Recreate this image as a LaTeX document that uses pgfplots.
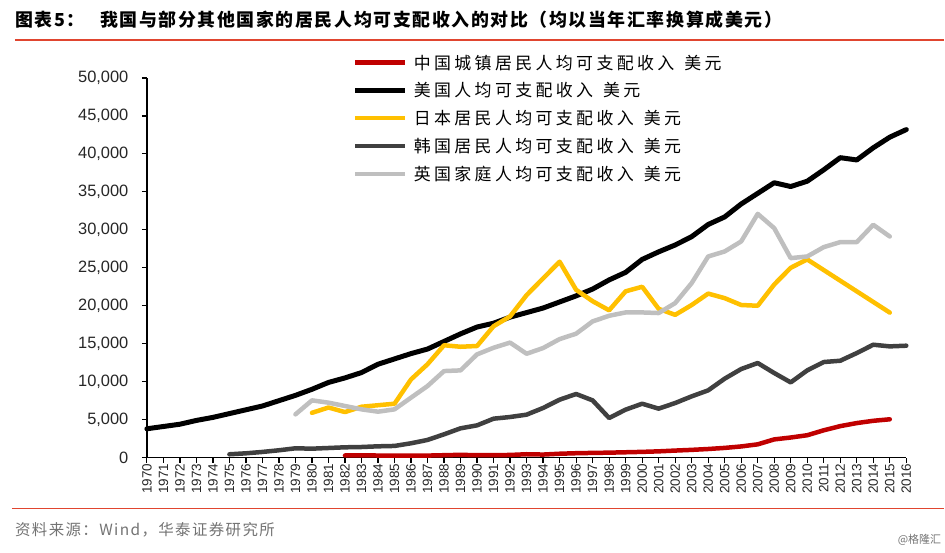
\documentclass[border=0pt]{standalone}
\usepackage{fontspec}
\setmainfont{Liberation Sans}
\newfontfamily\cjk{Noto Sans CJK SC}
\newfontfamily\cjkleg{Noto Sans CJK SC}[LetterSpace=20]
\newfontfamily\cjktitle{Noto Sans CJK SC}[LetterSpace=9]
\usepackage{pgfplots}
\pgfplotsset{compat=1.18}
\definecolor{cnred}{HTML}{C00000}
\definecolor{jpyel}{HTML}{FFC000}
\definecolor{krgray}{HTML}{404040}
\definecolor{ukgray}{HTML}{BFBFBF}
\definecolor{rulered}{HTML}{E0452F}
\begin{document}
\begin{tikzpicture}
\path (0,0) rectangle (945bp,553bp);
% title
\node[anchor=west, inner sep=0pt] at (15bp,533bp) {\cjktitle\bfseries\fontsize{18}{18}\selectfont 图表5：};
\node[anchor=west, inner sep=0pt] at (100bp,533bp) {\cjktitle\bfseries\fontsize{18}{18}\selectfont 我国与部分其他国家的居民人均可支配收入的对比（均以当年汇率换算成美元）};
\draw[rulered, line width=1.5bp] (15bp,513bp) -- (945bp,513bp);
\draw[rulered, line width=1.5bp] (12bp,44bp) -- (945bp,44bp);
\node[anchor=west, inner sep=0pt, text=black!55] at (15bp,23bp) {\cjktitle\fontsize{15.5}{15.5}\selectfont 资料来源：Wind，华泰证券研究所};
\node[anchor=east, inner sep=0pt, text=black!55] at (942bp,13bp) {\cjk\fontsize{11}{11}\selectfont @格隆汇};
\begin{axis}[
  at={(147bp,95bp)}, anchor=south west,
  scale only axis, width=760bp, height=380bp,
  xmin=1970, xmax=2016, ymin=0, ymax=50000,
  axis x line*=bottom, axis y line*=left,
  axis line style={black, line width=1.5bp},
  xtick distance=1, ytick distance=5000,
  tick align=outside, major tick length=5bp,
  tick style={black, line width=1.2bp},
  /pgf/number format/assume math mode=true,
  scaled y ticks=false,
  yticklabel style={font=\fontsize{16.5}{16.5}\selectfont, text=black!85, /pgf/number format/1000 sep={,}, xshift=-10bp},
  xticklabel style={font=\fontsize{13.5}{13.5}\selectfont, text=black!85, rotate=90, anchor=east, inner sep=1bp, /pgf/number format/1000 sep={}},
  clip=false,
  legend style={at={(axis description cs:0.267,1.072)}, anchor=north west, draw=none, fill=none,
    font=\cjkleg\fontsize{17}{18}\selectfont, row sep=8bp, nodes={inner sep=2bp}, cells={anchor=west}},
  legend image code/.code={\draw[#1, line cap=butt] (0bp,0bp) -- (50bp,0bp);},
  every axis plot/.append style={line join=round, line cap=round},
]
\addplot[cnred, line width=4.5bp] coordinates {
(1982,283)(1983,290)(1984,280)(1985,251)(1986,260)(1987,270)(1988,320)(1989,370)(1990,316)(1991,320)
(1992,353)(1993,447)(1994,405)(1995,513)(1996,582)(1997,622)(1998,655)(1999,707)(2000,758)(2001,828)
(2002,930)(2003,1023)(2004,1138)(2005,1281)(2006,1475)(2007,1750)(2008,2400)(2009,2650)(2010,2950)
(2011,3600)(2012,4150)(2013,4550)(2014,4850)(2015,5050)};
\addlegendentry{\hspace{4bp}中国城镇居民人均可支配收入\hspace{10bp}美元}
\addplot[black, line width=5bp] coordinates {
(1970,3800)(1971,4100)(1972,4400)(1973,4900)(1974,5300)(1975,5800)(1976,6300)(1977,6800)(1978,7500)(1979,8200)
(1980,9000)(1981,9900)(1982,10500)(1983,11200)(1984,12300)(1985,13000)(1986,13700)(1987,14300)(1988,15300)(1989,16300)
(1990,17200)(1991,17700)(1992,18500)(1993,19100)(1994,19700)(1995,20500)(1996,21300)(1997,22200)(1998,23400)(1999,24400)
(2000,26100)(2001,27100)(2002,28000)(2003,29100)(2004,30700)(2005,31700)(2006,33400)(2007,34800)(2008,36200)(2009,35700)
(2010,36400)(2011,37900)(2012,39500)(2013,39200)(2014,40800)(2015,42200)(2016,43200)};
\addlegendentry{\hspace{4bp}美国人均可支配收入\hspace{10bp}美元}
\addplot[jpyel, line width=4.5bp] coordinates {
(1980,5900)(1981,6600)(1982,6000)(1983,6700)(1984,6900)(1985,7100)(1986,10300)(1987,12300)(1988,14800)(1989,14600)
(1990,14700)(1991,17300)(1992,18600)(1993,21400)(1994,23600)(1995,25800)(1996,22100)(1997,20600)(1998,19400)(1999,21900)
(2000,22500)(2001,19600)(2002,18800)(2003,20100)(2004,21600)(2005,21000)(2006,20100)(2007,20000)(2008,22800)(2009,25000)
(2010,26100)(2015,19100)};
\addlegendentry{\hspace{4bp}日本居民人均可支配收入\hspace{10bp}美元}
\addplot[krgray, line width=4.5bp] coordinates {
(1975,440)(1976,570)(1977,750)(1978,970)(1979,1230)(1980,1180)(1981,1270)(1982,1360)(1983,1400)(1984,1490)
(1985,1540)(1986,1890)(1987,2330)(1988,3070)(1989,3860)(1990,4250)(1991,5130)(1992,5350)(1993,5660)(1994,6540)
(1995,7630)(1996,8380)(1997,7540)(1998,5220)(1999,6320)(2000,7100)(2001,6450)(2002,7190)(2003,8070)(2004,8860)
(2005,10400)(2006,11670)(2007,12460)(2008,11140)(2009,9910)(2010,11490)(2011,12590)(2012,12760)(2013,13770)(2014,14870)
(2015,14650)(2016,14740)};
\addlegendentry{\hspace{4bp}韩国居民人均可支配收入\hspace{10bp}美元}
\addplot[ukgray, line width=4.5bp] coordinates {
(1979,5700)(1980,7540)(1981,7240)(1982,6800)(1983,6360)(1984,6050)(1985,6360)(1986,7900)(1987,9430)(1988,11400)
(1989,11490)(1990,13600)(1991,14470)(1992,15150)(1993,13680)(1994,14430)(1995,15610)(1996,16320)(1997,17940)(1998,18680)
(1999,19120)(2000,19120)(2001,19040)(2002,20350)(2003,22980)(2004,26490)(2005,27150)(2006,28470)(2007,32100)(2008,30220)
(2009,26270)(2010,26490)(2011,27720)(2012,28380)(2013,28380)(2014,30660)(2015,29120)};
\addlegendentry{\hspace{4bp}英国家庭人均可支配收入\hspace{10bp}美元}
\end{axis}
\end{tikzpicture}
\end{document}
